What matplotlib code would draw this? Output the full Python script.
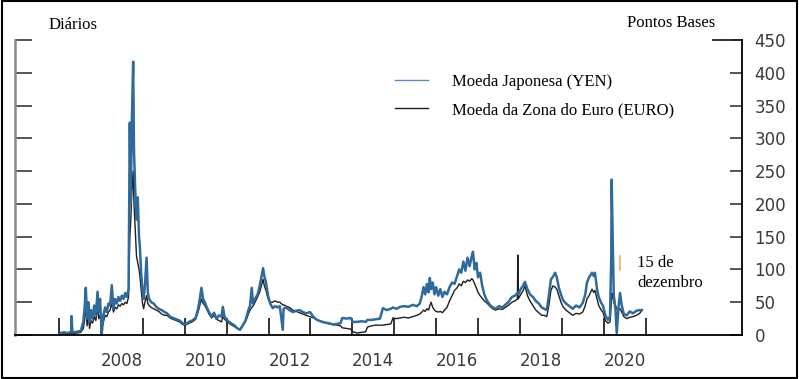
import matplotlib
matplotlib.use("Agg")
import matplotlib.pyplot as plt
from matplotlib.patches import Rectangle

# decimal year, yen basis, euro basis
dates = [
    2007.02, 2007.12, 2007.22, 2007.29, 2007.30, 2007.32, 2007.42, 2007.52, 2007.58, 2007.61,
    2007.64, 2007.67, 2007.70, 2007.73, 2007.76, 2007.80, 2007.84, 2007.88, 2007.92, 2007.95,
    2007.98, 2008.02, 2008.06, 2008.10, 2008.14, 2008.18, 2008.22, 2008.26, 2008.30, 2008.34,
    2008.38, 2008.42, 2008.46, 2008.50, 2008.54, 2008.58, 2008.62, 2008.66, 2008.69, 2008.71,
    2008.74, 2008.77, 2008.79, 2008.82, 2008.85, 2008.88, 2008.91, 2008.93, 2008.96, 2008.99,
    2009.02, 2009.05, 2009.09, 2009.12, 2009.15, 2009.20, 2009.26, 2009.32, 2009.38, 2009.45,
    2009.52, 2009.58, 2009.65, 2009.72, 2009.80, 2009.88, 2009.95, 2010.02, 2010.10, 2010.18,
    2010.26, 2010.32, 2010.36, 2010.40, 2010.44, 2010.48, 2010.52, 2010.58, 2010.64, 2010.70,
    2010.76, 2010.82, 2010.88, 2010.91, 2010.95, 2011.02, 2011.10, 2011.18, 2011.26, 2011.32,
    2011.38, 2011.45, 2011.52, 2011.56, 2011.60, 2011.63, 2011.68, 2011.74, 2011.79, 2011.84,
    2011.87, 2011.90, 2011.94, 2011.99, 2012.04, 2012.10, 2012.16, 2012.22, 2012.27, 2012.34,
    2012.36, 2012.42, 2012.50, 2012.58, 2012.66, 2012.74, 2012.82, 2012.90, 2012.99, 2013.08,
    2013.16, 2013.24, 2013.34, 2013.44, 2013.54, 2013.64, 2013.72, 2013.76, 2013.86, 2013.96,
    2014.01, 2014.12, 2014.22, 2014.32, 2014.36, 2014.46, 2014.56, 2014.66, 2014.73, 2014.82,
    2014.92, 2014.97, 2015.06, 2015.14, 2015.24, 2015.34, 2015.44, 2015.54, 2015.61, 2015.66,
    2015.70, 2015.74, 2015.78, 2015.82, 2015.85, 2015.88, 2015.92, 2015.96, 2016.00, 2016.05,
    2016.10, 2016.15, 2016.20, 2016.26, 2016.32, 2016.38, 2016.44, 2016.50, 2016.55, 2016.60,
    2016.65, 2016.70, 2016.75, 2016.80, 2016.85, 2016.88, 2016.92, 2016.96, 2017.00, 2017.05,
    2017.10, 2017.15, 2017.21, 2017.28, 2017.35, 2017.42, 2017.50, 2017.58, 2017.65, 2017.72,
    2017.81, 2017.88, 2017.94, 2017.95, 2017.96, 2018.02, 2018.08, 2018.12, 2018.18, 2018.24,
    2018.31, 2018.38, 2018.45, 2018.52, 2018.58, 2018.64, 2018.69, 2018.74, 2018.79, 2018.84,
    2018.88, 2018.93, 2018.98, 2019.03, 2019.10, 2019.18, 2019.26, 2019.34, 2019.42, 2019.50,
    2019.56, 2019.60, 2019.65, 2019.72, 2019.76, 2019.79, 2019.84, 2019.88, 2019.94, 2019.98,
    2020.04, 2020.10, 2020.15, 2020.18, 2020.19, 2020.21, 2020.24, 2020.28, 2020.31, 2020.35,
    2020.39, 2020.43, 2020.48, 2020.55, 2020.62, 2020.70, 2020.78, 2020.86, 2020.91,
]

yen = [
    3, 4, 3, 5, 29, 4, 5, 6, 20, 40,
    72, 25, 50, 20, 38, 25, 45, 30, 66, 35,
    55, 2, 30, 42, 35, 48, 45, 76, 40, 55,
    48, 58, 52, 60, 55, 64, 58, 70, 324, 200,
    330, 417, 280, 220, 176, 210, 150, 135, 95, 70,
    55, 75, 118, 65, 55, 50, 48, 43, 40, 38,
    35, 33, 28, 26, 24, 22, 18, 16, 20, 22,
    26, 40, 55, 72, 55, 50, 43, 35, 28, 34,
    25, 30, 28, 43, 28, 22, 18, 15, 10, 8,
    14, 22, 38, 45, 72, 48, 55, 62, 75, 92,
    102, 90, 80, 60, 48, 41, 44, 42, 44, 8,
    40, 42, 38, 35, 37, 38, 35, 33, 35, 27,
    23, 21, 19, 18, 16, 17, 18, 26, 25, 26,
    20, 20, 21, 20, 23, 23, 24, 25, 41, 38,
    40, 42, 40, 43, 44, 43, 46, 44, 48, 60,
    73, 62, 78, 65, 87, 70, 80, 62, 73, 60,
    70, 58, 66, 62, 73, 80, 78, 90, 100, 95,
    112, 98, 118, 105, 120, 127, 100, 110, 88, 95,
    75, 62, 53, 46, 42, 40, 44, 42, 46, 50,
    58, 60, 64, 64, 62, 70, 76, 81, 70, 62,
    58, 52, 48, 42, 40, 38, 60, 85, 89, 95,
    88, 72, 62, 53, 48, 44, 40, 45, 42, 49,
    62, 80, 88, 95, 90, 95, 70, 58, 49, 45,
    30, 23, 28, 120, 237, 160, 60, 40, 3, 40,
    64, 45, 32, 30, 36, 33, 37, 38, 38,
]

euro = [
    2, 2, 1, 2, 3, 2, 3, 4, 10, 22,
    45, 14, 30, 10, 22, 18, 28, 22, 42, 25,
    30, 10, 20, 30, 28, 35, 38, 48, 35, 42,
    40, 46, 44, 48, 46, 50, 48, 58, 150, 170,
    220, 250, 200, 160, 120, 110, 100, 90, 70, 50,
    40, 50, 60, 48, 45, 42, 40, 38, 36, 32,
    30, 30, 26, 24, 22, 20, 16, 15, 18, 20,
    24, 35, 45, 55, 48, 45, 40, 32, 26, 30,
    24, 22, 20, 28, 24, 20, 16, 13, 10, 9,
    14, 20, 32, 38, 42, 44, 50, 58, 65, 78,
    85, 75, 68, 55, 50, 50, 52, 50, 50, 46,
    46, 44, 42, 38, 36, 34, 32, 30, 28, 26,
    23, 21, 19, 17, 16, 15, 14, 11, 10, 9,
    5, 3, 4, 5, 12, 14, 15, 15, 15, 16,
    17, 26, 25, 26, 27, 26, 28, 30, 32, 35,
    38, 36, 40, 38, 45, 50, 42, 38, 36, 35,
    36, 34, 38, 42, 52, 60, 68, 72, 78, 75,
    82, 80, 84, 82, 86, 84, 78, 72, 65, 60,
    56, 52, 49, 44, 40, 38, 40, 39, 42, 45,
    50, 52, 55, 122, 55, 62, 68, 75, 60, 52,
    45, 38, 34, 30, 30, 28, 45, 68, 75, 73,
    70, 60, 50, 43, 38, 34, 30, 33, 32, 35,
    45, 55, 60, 70, 65, 68, 55, 45, 38, 35,
    22, 18, 20, 50, 64, 60, 50, 45, 40, 38,
    40, 35, 28, 25, 27, 28, 30, 33, 38,
]

assert len(dates) == len(yen) == len(euro)

year_ticks = list(range(2007, 2022))
label_years = [2008, 2010, 2012, 2014, 2016, 2018, 2020]
y_ticks = [0, 50, 100, 150, 200, 250, 300, 350, 400, 450]

W, H = 799, 379
fig = plt.figure(figsize=(W / 100, H / 100), dpi=100)
ax = fig.add_axes([15 / W, 1 - 335 / H, 727 / W, 295 / H])

ax.plot(dates, euro, color="#1e1e1e", lw=1.0, label="Moeda da Zona do Euro (EURO)")
ax.plot(dates, yen, color="#2f6a9c", lw=1.8, label="Moeda Japonesa (YEN)")

ax.set_xlim(2005.95, 2023.3)
ax.set_ylim(0, 450)

ax.spines["top"].set_visible(False)
ax.spines["left"].set_color("#8a8a8a")
ax.spines["left"].set_linewidth(1.8)
ax.spines["right"].set_linewidth(1.3)
ax.spines["bottom"].set_linewidth(1.3)

ax.set_xticks(year_ticks)
ax.set_xticklabels([])
ax.tick_params(axis="x", direction="in", length=12, width=1.3, color="#222222")
ax.set_xticks([y + 0.5 for y in label_years], minor=True)
ax.set_xticklabels([str(y) for y in label_years], minor=True,
                   fontfamily="DejaVu Sans", fontsize=12, color="#3a3a3a")
ax.tick_params(axis="x", which="minor", length=0, pad=12)

ax.set_yticks(y_ticks)
ax.tick_params(axis="y", direction="in", length=12, width=1.4, color="#555555",
               left=True, right=True, labelleft=False, labelright=True, pad=9,
               labelsize=12, labelcolor="#3a3a3a")
for t in ax.yaxis.get_major_ticks():
    t.tick2line.set_markersize(9)
    t.tick2line.set_color("#222222")
for lab in ax.get_yticklabels():
    lab.set_fontfamily("DejaVu Sans")
# longer top tick on the right axis
ax.axhline(450, xmin=(713 - 15) / 727, xmax=1, color="#222222", lw=1.3, clip_on=False)

serif = "Liberation Serif"
fig.text(49 / W, 1 - 25 / H, "Diários", family=serif, fontsize=12, va="center")
fig.text(627 / W, 1 - 23 / H, "Pontos Bases", family=serif, fontsize=12, va="center")
fig.text(637 / W, 1 - 263 / H, "15 de", family=serif, fontsize=12, va="center")
fig.text(637 / W, 1 - 283 / H, "dezembro", family=serif, fontsize=12, va="center")
ax.axvline(2020.4, ymin=65 / 295, ymax=79 / 295, color="#e8b070", lw=1.2)

handles, labels = ax.get_legend_handles_labels()
leg = ax.legend(handles[::-1], labels[::-1], loc="upper left",
                bbox_to_anchor=(395 / W, 1 - 74 / H), bbox_transform=fig.transFigure,
                frameon=False, prop={"family": serif, "size": 12},
                handlelength=2.0, handletextpad=1.4, labelspacing=0.72,
                borderpad=0, borderaxespad=0)
leg.get_lines()[0].set_linewidth(1.0)
leg.get_lines()[0].set_color("#5a8fc0")

fig.patches.append(Rectangle((0.002, 0.003), 0.995, 0.994, transform=fig.transFigure,
                             fill=False, edgecolor="black", lw=1.5))

fig.savefig("out.png", dpi=100)
